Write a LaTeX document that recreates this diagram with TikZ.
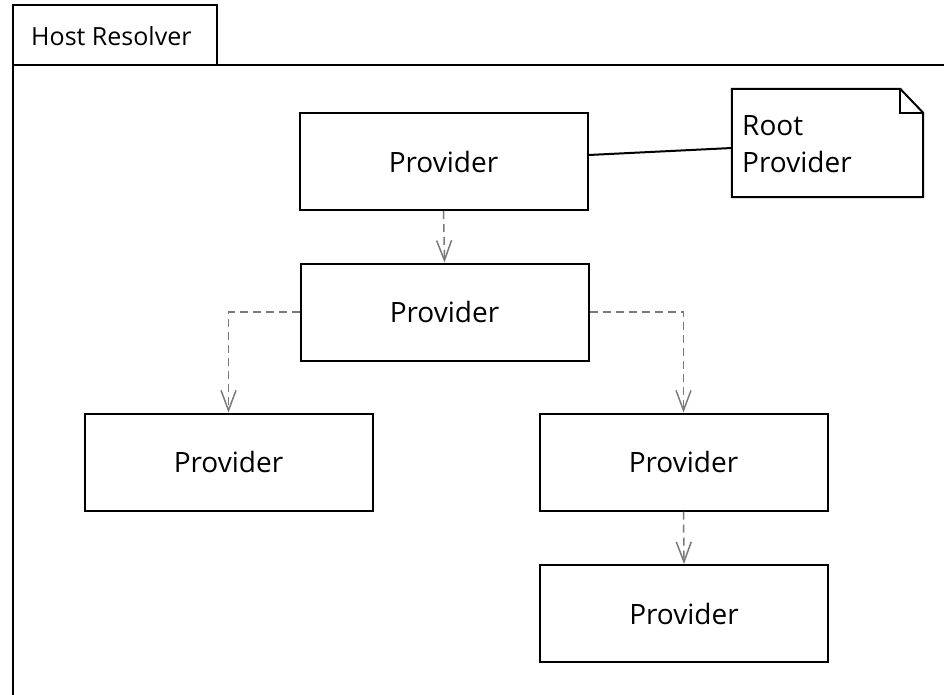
\documentclass[tikz,border=0pt]{standalone}
\usepackage{fontspec}
\setmainfont{Open Sans}
\usetikzlibrary{arrows.meta}
\definecolor{depgray}{HTML}{7A7A7A}
\tikzset{
  provbox/.style={draw=black, line width=2pt, fill=white, minimum width=288pt, minimum height=97pt,
                  inner sep=0pt, font=\fontsize{28}{32}\selectfont},
  dep/.style={draw=depgray, line width=1.5pt, dash pattern=on 8pt off 5pt,
              -{Straight Barb[length=20pt, width=15pt, line width=1.5pt]}},
  frameline/.style={draw=black, line width=2pt},
  noteline/.style={draw=black, line width=2pt, line join=miter},
  link/.style={draw=black, line width=2pt}
}
\begin{document}
\begin{tikzpicture}[x=1pt, y=-1pt]
\useasboundingbox (0,0) rectangle (944,694);
% package frame with its name tab
\begin{scope}
\clip (0,0) rectangle (944,694);
\draw[frameline] (13,710) -- (13,65) -- (960,65);
\draw[frameline] (13,65) -- (13,5) -- (217,5) -- (217,65);
\end{scope}
\node[anchor=west, font=\fontsize{25}{30}\selectfont, inner sep=0pt] (title) at (31,36) {Host Resolver};

% providers
\node[provbox] (b1) at (443.5,161.5) {Provider};
\node[provbox] (b2) at (444.5,312) {Provider};
\node[provbox] (b3) at (228.5,462) {Provider};
\node[provbox] (b4) at (683.5,462) {Provider};
\node[provbox] (b5) at (684,613.5) {Provider};

% note with folded corner
\node[minimum width=191pt, minimum height=108pt, inner sep=0pt] (note) at (827.5,143) {};
\draw[noteline] (note.north west) -- ([xshift=-23pt]note.north east)
  -- ([yshift=-24pt]note.north east) -- (note.south east) -- (note.south west) -- cycle;
\draw[noteline] ([xshift=-23pt]note.north east) -- ([xshift=-23pt,yshift=-24pt]note.north east)
  -- ([yshift=-24pt]note.north east);
\node[anchor=north west, align=left, inner sep=0pt, font=\fontsize{28}{37}\selectfont]
  (notetext) at (742,115) {Root\\Provider};

% note attachment
\draw[link] ([yshift=6.5pt]b1.east) -- ([yshift=-5pt]note.west);

% dependencies
\draw[dep] (b1.south) -- (b2.north);
\draw[dep] (b2.west) -| (b3.north);
\draw[dep] (b2.east) -| (b4.north);
\draw[dep] (b4.south) -- (b5.north);
\end{tikzpicture}
\end{document}
